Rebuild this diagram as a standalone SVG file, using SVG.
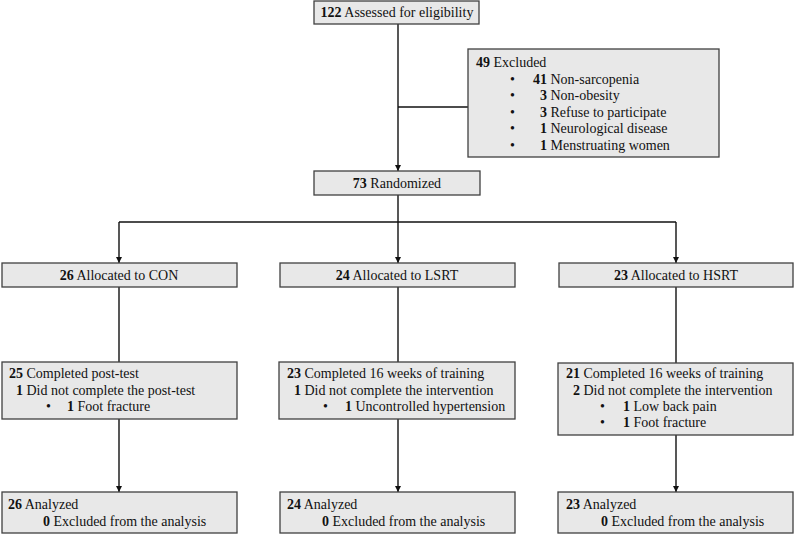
<svg xmlns="http://www.w3.org/2000/svg" width="794" height="538" viewBox="0 0 794 538">
<defs>
<marker id="ah" viewBox="0 0 10 10" refX="10" refY="5" markerWidth="6" markerHeight="6" markerUnits="userSpaceOnUse" orient="auto">
<path d="M0,0 L10,5 L0,10 z" fill="#111"/>
</marker>
<style>
.box{fill:#e8e8e8;stroke:#404040;stroke-width:1.3}
.t{font-size:14px;fill:#111}
.c{text-anchor:middle}
.b{font-weight:bold}
.ln{fill:none;stroke:#111;stroke-width:1.4}
</style>
</defs>
<rect width="794" height="538" fill="#fff"/>
<g id="connectors">
<path class="ln" d="M398,24 V171" marker-end="url(#ah)"/>
<path class="ln" d="M398,107 H468"/>
<path class="ln" d="M398,195 V222"/>
<path class="ln" d="M119,222 H676"/>
<path class="ln" d="M119,222 V263" marker-end="url(#ah)"/>
<path class="ln" d="M398,222 V263" marker-end="url(#ah)"/>
<path class="ln" d="M676,222 V263" marker-end="url(#ah)"/>
<path class="ln" d="M119,287 V362"/>
<path class="ln" d="M398,287 V362"/>
<path class="ln" d="M676,287 V363"/>
<path class="ln" d="M119,419 V492" marker-end="url(#ah)"/>
<path class="ln" d="M398,419 V492" marker-end="url(#ah)"/>
<path class="ln" d="M676,435 V492" marker-end="url(#ah)"/>
</g>
<g font-family="'Liberation Serif', 'Times New Roman', Times, serif">
<g id="assessed">
<rect class="box" x="314" y="1" width="165" height="23"/>
<text class="t c" x="397" y="17"><tspan class="b">122</tspan> Assessed for eligibility</text>
</g>
<g id="excluded">
<rect class="box" x="468" y="49" width="251" height="108"/>
<text class="t" x="476" y="67"><tspan class="b">49</tspan> Excluded</text>
<text class="t" x="510" y="84">•</text>
<text class="t" x="533" y="84"><tspan class="b">41</tspan> Non-sarcopenia</text>
<text class="t" x="510" y="100">•</text>
<text class="t" x="540" y="100"><tspan class="b">3</tspan> Non-obesity</text>
<text class="t" x="510" y="117">•</text>
<text class="t" x="540" y="117"><tspan class="b">3</tspan> Refuse to participate</text>
<text class="t" x="510" y="133">•</text>
<text class="t" x="540" y="133"><tspan class="b">1</tspan> Neurological disease</text>
<text class="t" x="510" y="150">•</text>
<text class="t" x="540" y="150"><tspan class="b">1</tspan> Menstruating women</text>
</g>
<g id="randomized">
<rect class="box" x="314" y="171" width="166" height="24"/>
<text class="t c" x="397" y="188"><tspan class="b">73</tspan> Randomized</text>
</g>
<g id="alloc-con">
<rect class="box" x="2" y="263" width="235" height="24"/>
<text class="t c" x="119" y="280"><tspan class="b">26</tspan> Allocated to CON</text>
</g>
<g id="alloc-lsrt">
<rect class="box" x="280" y="263" width="235" height="24"/>
<text class="t c" x="397" y="280"><tspan class="b">24</tspan> Allocated to LSRT</text>
</g>
<g id="alloc-hsrt">
<rect class="box" x="559" y="263" width="234" height="24"/>
<text class="t c" x="676" y="280"><tspan class="b">23</tspan> Allocated to HSRT</text>
</g>
<g id="follow-con">
<rect class="box" x="2" y="362" width="235" height="57"/>
<text class="t" x="9" y="378"><tspan class="b">25</tspan> Completed post-test</text>
<text class="t" x="16" y="395"><tspan class="b">1</tspan> Did not complete the post-test</text>
<text class="t" x="46" y="411">•</text>
<text class="t" x="67" y="411"><tspan class="b">1</tspan> Foot fracture</text>
</g>
<g id="follow-lsrt">
<rect class="box" x="279" y="362" width="236" height="57"/>
<text class="t" x="287" y="378"><tspan class="b">23</tspan> Completed 16 weeks of training</text>
<text class="t" x="294" y="395"><tspan class="b">1</tspan> Did not complete the intervention</text>
<text class="t" x="323" y="411">•</text>
<text class="t" x="345" y="411"><tspan class="b">1</tspan> Uncontrolled hypertension</text>
</g>
<g id="follow-hsrt">
<rect class="box" x="558" y="363" width="235" height="72"/>
<text class="t" x="566" y="378"><tspan class="b">21</tspan> Completed 16 weeks of training</text>
<text class="t" x="573" y="395"><tspan class="b">2</tspan> Did not complete the intervention</text>
<text class="t" x="600" y="411">•</text>
<text class="t" x="623" y="411"><tspan class="b">1</tspan> Low back pain</text>
<text class="t" x="600" y="427">•</text>
<text class="t" x="623" y="427"><tspan class="b">1</tspan> Foot fracture</text>
</g>
<g id="analyzed-con">
<rect class="box" x="2" y="492" width="235" height="41"/>
<text class="t" x="8" y="509"><tspan class="b">26</tspan> Analyzed</text>
<text class="t" x="43" y="526"><tspan class="b">0</tspan> Excluded from the analysis</text>
</g>
<g id="analyzed-lsrt">
<rect class="box" x="280" y="492" width="235" height="41"/>
<text class="t" x="287" y="509"><tspan class="b">24</tspan> Analyzed</text>
<text class="t" x="322" y="526"><tspan class="b">0</tspan> Excluded from the analysis</text>
</g>
<g id="analyzed-hsrt">
<rect class="box" x="558" y="492" width="235" height="41"/>
<text class="t" x="566" y="509"><tspan class="b">23</tspan> Analyzed</text>
<text class="t" x="601" y="526"><tspan class="b">0</tspan> Excluded from the analysis</text>
</g>
</g>
</svg>
